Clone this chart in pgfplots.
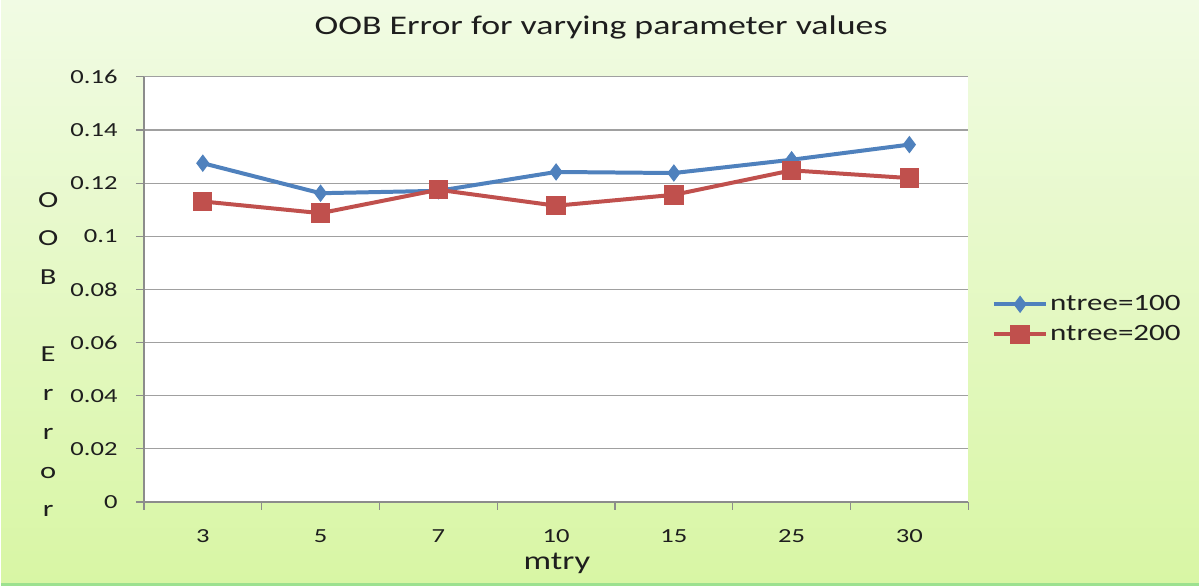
\documentclass[border=0pt]{standalone}
\usepackage{fontspec}
\setmainfont[FakeStretch=1.33]{Carlito}
\usepackage{pgfplots}
\pgfplotsset{compat=1.18}
\definecolor{sblue}{HTML}{4F81BD}
\definecolor{sred}{HTML}{C0504D}
\definecolor{bgtop}{HTML}{F1FBE4}
\definecolor{bgbot}{HTML}{D8F6A4}
\definecolor{gridc}{HTML}{A0A0A0}
\definecolor{axc}{HTML}{8C8C8C}
\definecolor{txt}{HTML}{1E1E1E}
\begin{document}
\begin{tikzpicture}
\shade[top color=bgtop, bottom color=bgbot] (0,0) rectangle (600pt,293.5pt);
\draw[color=bgbot!70!black!60!green!60, line width=1.2pt] (0,0.6pt) -- (600pt,0.6pt);
\path[use as bounding box] (0,0) rectangle (600pt,293.5pt);
\begin{axis}[
  at={(71.5pt,42pt)}, anchor=south west,
  scale only axis, width=413pt, height=213pt,
  xmin=-0.5, xmax=6.5, ymin=0, ymax=0.16,
  axis background/.style={fill=white},
  axis x line=bottom, axis y line=left,
  axis line style={draw=axc, line width=0.6pt, -},
  xtick={0,...,6},
  xticklabels={3,5,7,10,15,25,30},
  minor xtick={-0.5,0.5,...,6.5},
  ytick={0,0.02,...,0.16},
  yticklabels={0,0.02,0.04,0.06,0.08,0.1,0.12,0.14,0.16},
  tick align=outside,
  major tick length=4pt, minor tick length=4pt,
  xtick style={draw=none},
  minor x tick style={draw=axc, line width=0.6pt},
  ytick style={draw=axc, line width=0.6pt},
  ymajorgrids, major grid style={draw=gridc, line width=0.6pt},
  /pgf/number format/assume math mode=true,
  tick label style={font=\fontsize{10}{12}\selectfont, text=txt},
  xticklabel style={yshift=-6.5pt},
  yticklabel style={xshift=-5.7pt},
  title={OOB Error for varying parameter values},
  title style={at={(rel axis cs:0.5545,1.0869)}, anchor=center, font=\fontsize{13.5}{16}\selectfont, text=txt},
  xlabel={mtry},
  every axis x label/.style={at={(rel axis cs:0.501,-0.1455)}, anchor=center, font=\fontsize{13}{15}\selectfont, text=txt},
  ylabel={O\\O\\B\\[19.4pt]E\\r\\r\\o\\r},
  every axis y label/.style={at={(rel axis cs:-0.1162,0.347)}, anchor=center, align=center, font=\fontsize{11.5}{19.4}\selectfont, text=txt},
  legend style={at={(rel axis cs:1.021,0.4296)}, anchor=west, draw=none, fill=none,
    font=\fontsize{11.7}{13}\selectfont, text=txt, row sep=4pt,
    nodes={inner sep=1pt}},
  legend cell align=left,
  legend image code/.code={\draw[#1, mark repeat=2, mark phase=2] plot coordinates {(0cm,0cm) (0.46cm,0cm) (0.92cm,0cm)};},
  clip=false,
]
\addplot[color=sblue, line width=2pt, mark=diamond*, mark size=4pt, mark options={solid, line width=0.5pt}]
  coordinates {(0,0.1275) (1,0.1162) (2,0.1171) (3,0.1242) (4,0.1238) (5,0.1288) (6,0.1345)};
\addlegendentry{ntree=100}
\addplot[color=sred, line width=2pt, mark=square*, mark size=4.6pt, mark options={solid, line width=0.5pt}]
  coordinates {(0,0.1131) (1,0.1087) (2,0.1175) (3,0.1115) (4,0.1156) (5,0.1248) (6,0.1219)};
\addlegendentry{ntree=200}
\end{axis}
\end{tikzpicture}
\end{document}
